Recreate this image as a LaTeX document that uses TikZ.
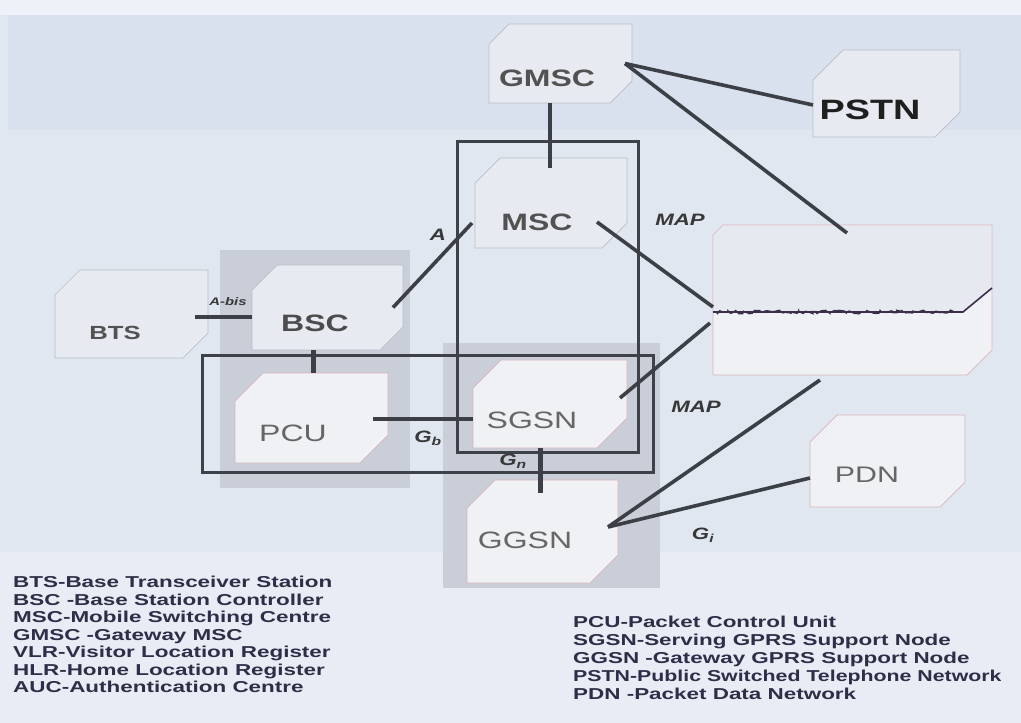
\documentclass[tikz,border=0pt]{standalone}
\usepackage{fontspec}
\usepackage{graphicx}
\setmainfont{Liberation Sans}
\newfontfamily\nodefont[FakeStretch=1.35]{Liberation Sans}
\newfontfamily\legfont[FakeStretch=1.42]{Liberation Sans}
\usetikzlibrary{fit,decorations.pathmorphing}
\definecolor{bg}{HTML}{E1E7F1}
\definecolor{topstrip}{HTML}{EEF2F8}
\definecolor{band}{HTML}{D9E1EE}
\definecolor{botband}{HTML}{E8EDF5}
\definecolor{shadegray}{HTML}{C9CED8}
\definecolor{conn}{HTML}{3C3F46}
\definecolor{encl}{HTML}{3E4148}
\definecolor{pinkedge}{HTML}{D8B3BA}
\definecolor{grayedge}{HTML}{B9BDC7}
\definecolor{legcol}{HTML}{2E2E48}
\definecolor{cardA}{HTML}{E7EAF0}
\definecolor{cardB}{HTML}{F0F1F5}
\definecolor{regtop}{HTML}{E6E9EF}
\definecolor{tear}{HTML}{3B2E4B}
\newcommand\mkcard[8]{%
  \coordinate (#1-a) at (#2,#3);
  \coordinate (#1-b) at (#4,#5);
  \node[fit=(#1-a)(#1-b), inner sep=0pt, outer sep=0pt] (#1) {};
  \filldraw[#8] ([xshift=#6pt]#1.north west) -- (#1.north east) -- ([yshift=#7pt]#1.south east) -- ([xshift=-#7pt]#1.south east) -- (#1.south west) -- ([yshift=-#6pt]#1.north west) -- cycle;
}
\tikzset{
  grey card/.style={fill=cardA, draw=grayedge, line width=0.7pt},
  white card/.style={fill=cardB, draw=pinkedge, line width=0.7pt},
  link/.style={draw=conn, line width=3.6pt},
  thicklink/.style={draw=conn, line width=5pt},
  enclosure/.style={draw=encl, line width=3pt},
  boldtext/.style={font=\nodefont\bfseries\fontsize{23.7}{26}\selectfont, text=black!72, inner sep=0pt},
  thintext/.style={font=\nodefont\fontsize{23.7}{26}\selectfont, text=black!60, inner sep=0pt},
  iflabel/.style={font=\nodefont\bfseries\itshape\fontsize{16.5}{18}\selectfont, text=black!78, inner sep=0pt},
  legtext/.style={font=\legfont\bfseries\fontsize{15.8}{17}\selectfont, text=legcol, inner sep=0pt, anchor=base west}
}
\begin{document}
\begin{tikzpicture}[x=1pt,y=-1pt]
\useasboundingbox (0,0) rectangle (1021,723);
% background
\fill[bg] (0,0) rectangle (1021,723);
\fill[topstrip] (0,0) rectangle (1021,15);
\fill[band] (8,15) rectangle (1021,130);
\fill[botband] (0,552) rectangle (1021,723);
% grey shaded areas
\fill[shadegray] (220,250) rectangle (410,488);
\fill[shadegray] (443,343) rectangle (660,588);
% nodes (cut-corner cards)
\mkcard{gmsc}{489}{24}{632}{103}{20}{22}{grey card}
\mkcard{pstn}{813}{50}{960}{137}{30}{25}{grey card}
\mkcard{msc}{475}{158}{627}{248}{25}{25}{grey card}
\mkcard{bts}{55}{270}{208}{358}{25}{25}{grey card}
\mkcard{bsc}{252}{265}{403}{350}{25}{23}{grey card}
\mkcard{pcu}{235}{373}{388}{463}{28}{28}{white card}
\mkcard{sgsn}{473}{360}{627}{448}{28}{30}{white card}
\mkcard{ggsn}{467}{480}{618}{583}{28}{28}{white card}
\mkcard{pdn}{810}{415}{965}{507}{27}{25}{white card}
\mkcard{reg}{713}{225}{992}{375}{10}{25}{white card}
% upper part of the register card and its tear line
\fill[regtop] (723,226) -- (991,226) -- (991,288) -- (963,312) -- (714,312) -- (714,235) -- cycle;
\draw[tear, line width=1.6pt] (713,312) -- (963,312) -- (992,288);
\draw[tear, line width=1.2pt, decorate, decoration={random steps, segment length=2.5pt, amplitude=2pt}] (716,312) -- (955,312);
% enclosures
\draw[enclosure] (457,141) rectangle (638,452);
\draw[enclosure] (202,355) rectangle (653,472);
% node texts
\node[boldtext, text=black!68] (gmsc-t) at (547,78) {GMSC};
\node[boldtext, text=black!88, font=\nodefont\bfseries\fontsize{28}{30}\selectfont] (pstn-t) at (870,110) {PSTN};
\node[boldtext, text=black!68] (msc-t) at (537,222) {MSC};
\node[boldtext, text=black!68, font=\nodefont\bfseries\fontsize{19}{21}\selectfont] (bts-t) at (115,333) {BTS};
\node[boldtext, text=black!70] (bsc-t) at (315,323) {BSC};
\node[thintext] (pcu-t) at (293,433) {PCU};
\node[thintext] (sgsn-t) at (532,420) {SGSN};
\node[thintext] (ggsn-t) at (525,540) {GGSN};
\node[thintext, font=\nodefont\fontsize{22.5}{24}\selectfont] (pdn-t) at (867,475) {PDN};
% connectors
\draw[link] ([xshift=-10.5pt]gmsc.south) -- ([xshift=-1pt,yshift=-10pt]msc.north);
\draw[link] ([xshift=-7pt]gmsc.east) -- ([yshift=-11.5pt]pstn.west);
\draw[link] ([xshift=-7pt]gmsc.east) -- ([xshift=-5.5pt,yshift=-8pt]reg.north);
\draw[link] ([xshift=-13pt,yshift=-3pt]bts.east) -- ([yshift=-9.5pt]bsc.west);
\draw[link] ([xshift=-10pt]bsc.east) -- ([xshift=-3pt,yshift=-20pt]msc.west);
\draw[link] ([xshift=-30pt,yshift=-19pt]msc.east) -- ([yshift=-7pt]reg.west);
\draw[thicklink] ([xshift=-14.5pt]bsc.south) -- ([xshift=1.5pt]pcu.north);
\draw[link] ([xshift=-15pt,yshift=-1pt]pcu.east) -- ([yshift=-15pt]sgsn.west);
\draw[link] ([xshift=-3pt,yshift=-23pt]reg.west) -- ([xshift=-7pt,yshift=6pt]sgsn.east);
\draw[thicklink] ([xshift=-10pt]sgsn.south) -- ([xshift=-2.5pt,yshift=-13pt]ggsn.north);
\draw[link] ([xshift=-10pt,yshift=4.5pt]ggsn.east) -- ([xshift=-32.5pt,yshift=-5pt]reg.south);
\draw[link] ([xshift=-10pt,yshift=4.5pt]ggsn.east) -- ([yshift=-17pt]pdn.west);
% interface labels
\node[iflabel] (l-a) at (438,235) {A};
\node[iflabel, font=\nodefont\bfseries\itshape\fontsize{11}{12}\selectfont] (l-abis) at (228,302) {A-bis};
\node[iflabel] (l-map1) at (680,220) {MAP};
\node[iflabel] (l-map2) at (696,407) {MAP};
\node[iflabel] (l-gb) at (428,438) {G\textsubscript{b}};
\node[iflabel] (l-gn) at (513,461) {G\textsubscript{n}};
\node[iflabel] (l-gi) at (703,535) {G\textsubscript{i}};
% legend
\node[legtext] (k1) at (13,587.5) {BTS-Base Transceiver Station};
\node[legtext] (k2) at (13,605) {BSC -Base Station Controller};
\node[legtext] (k3) at (13,622.5) {MSC-Mobile Switching Centre};
\node[legtext] (k4) at (13,640) {GMSC -Gateway MSC};
\node[legtext] (k5) at (13,657.5) {VLR-Visitor Location Register};
\node[legtext] (k6) at (13,675) {HLR-Home Location Register};
\node[legtext] (k7) at (13,692.5) {AUC-Authentication Centre};
\node[legtext] (m1) at (573,627.5) {PCU-Packet Control Unit};
\node[legtext] (m2) at (573,645.5) {SGSN-Serving GPRS Support Node};
\node[legtext] (m3) at (573,663.5) {GGSN -Gateway GPRS Support Node};
\node[legtext] (m4) at (573,681.5) {\scalebox{0.95}[1]{PSTN-Public Switched Telephone Network}};
\node[legtext] (m5) at (573,699.5) {PDN -Packet Data Network};
\end{tikzpicture}
\end{document}
